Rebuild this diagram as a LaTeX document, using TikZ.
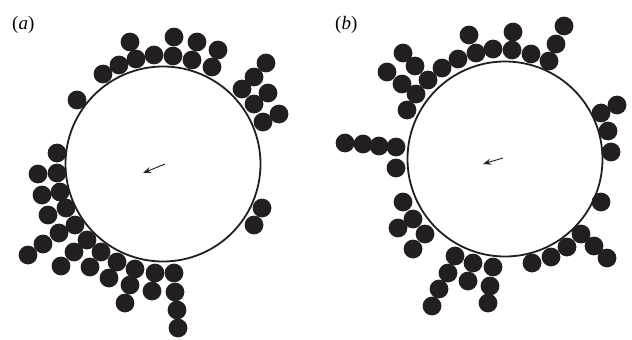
\documentclass[tikz,border=0pt]{standalone}
\usepackage{fontspec}
\setmainfont{Liberation Serif}
\usetikzlibrary{arrows.meta}
\definecolor{ink}{RGB}{35,31,32}
\tikzset{
  big/.style={draw=ink,line width=1.8pt},
  disk/.style={fill=ink},
  arr/.style={draw=ink,line width=0.9pt,-{Stealth[length=8pt,width=6pt]}},
  lab/.style={font=\fontsize{19}{22}\selectfont,anchor=west,inner sep=0pt}
}
\begin{document}
\begin{tikzpicture}[x=1pt,y=-1pt]
\useasboundingbox (0,0) rectangle (632,340);
\node[lab] (la) at (12,25) {(\textit{a})};
\node[lab] (lb) at (335,25) {(\textit{b})};
% panel a
\draw[big] (163,164) circle (97.5);
\foreach \p in {(130,42),(174,37),(197,42),(218,50),(136,59),(154,55),(173,56),(192,60),(212,67),(119,65),(103,74),(77,100),
(266,63),(254,77),(242,89),(268,93),(254,104),(279,114),(263,122),
(57,153),(38,174),(57,173),(42,195),(60,192),(48,215),(66,208),(75,225),(59,233),(43,244),(28,255),(87,240),(74,252),(61,266),(101,252),(90,267),(117,262),(109,278),(135,269),(130,285),(125,303),(155,273),(152,291),(174,273),(175,292),(177,310),(178,328),
(262,208),(254,225)}
  \fill[disk] \p circle (9.4);
\coordinate (a1) at (165,164);
\coordinate (a2) at (143,173);
\draw[arr] (a1) -- (a2);
% panel b
\draw[big] (505,159) circle (97.5);
\foreach \p in {(469,35),(513,32),(564,26),(403,53),(476,53),(493,49),(512,50),(531,54),(556,44),(549,61),(458,59),(442,68),(415,66),(387,72),(428,80),(402,84),(416,94),(407,110),
(601,113),(617,105),(608,131),(611,152),
(345,143),(363,144),(379,146),(396,147),(396,168),
(403,202),(413,219),(398,228),(425,234),(413,249),(455,256),(448,273),(439,289),(432,306),(473,263),(468,281),(493,267),(490,286),(488,303),
(532,263),(551,257),(567,247),(581,234),(594,246),(607,258),(601,202)}
  \fill[disk] \p circle (9.4);
\coordinate (b1) at (503,158);
\coordinate (b2) at (483,164);
\draw[arr] (b1) -- (b2);
\end{tikzpicture}
\end{document}
